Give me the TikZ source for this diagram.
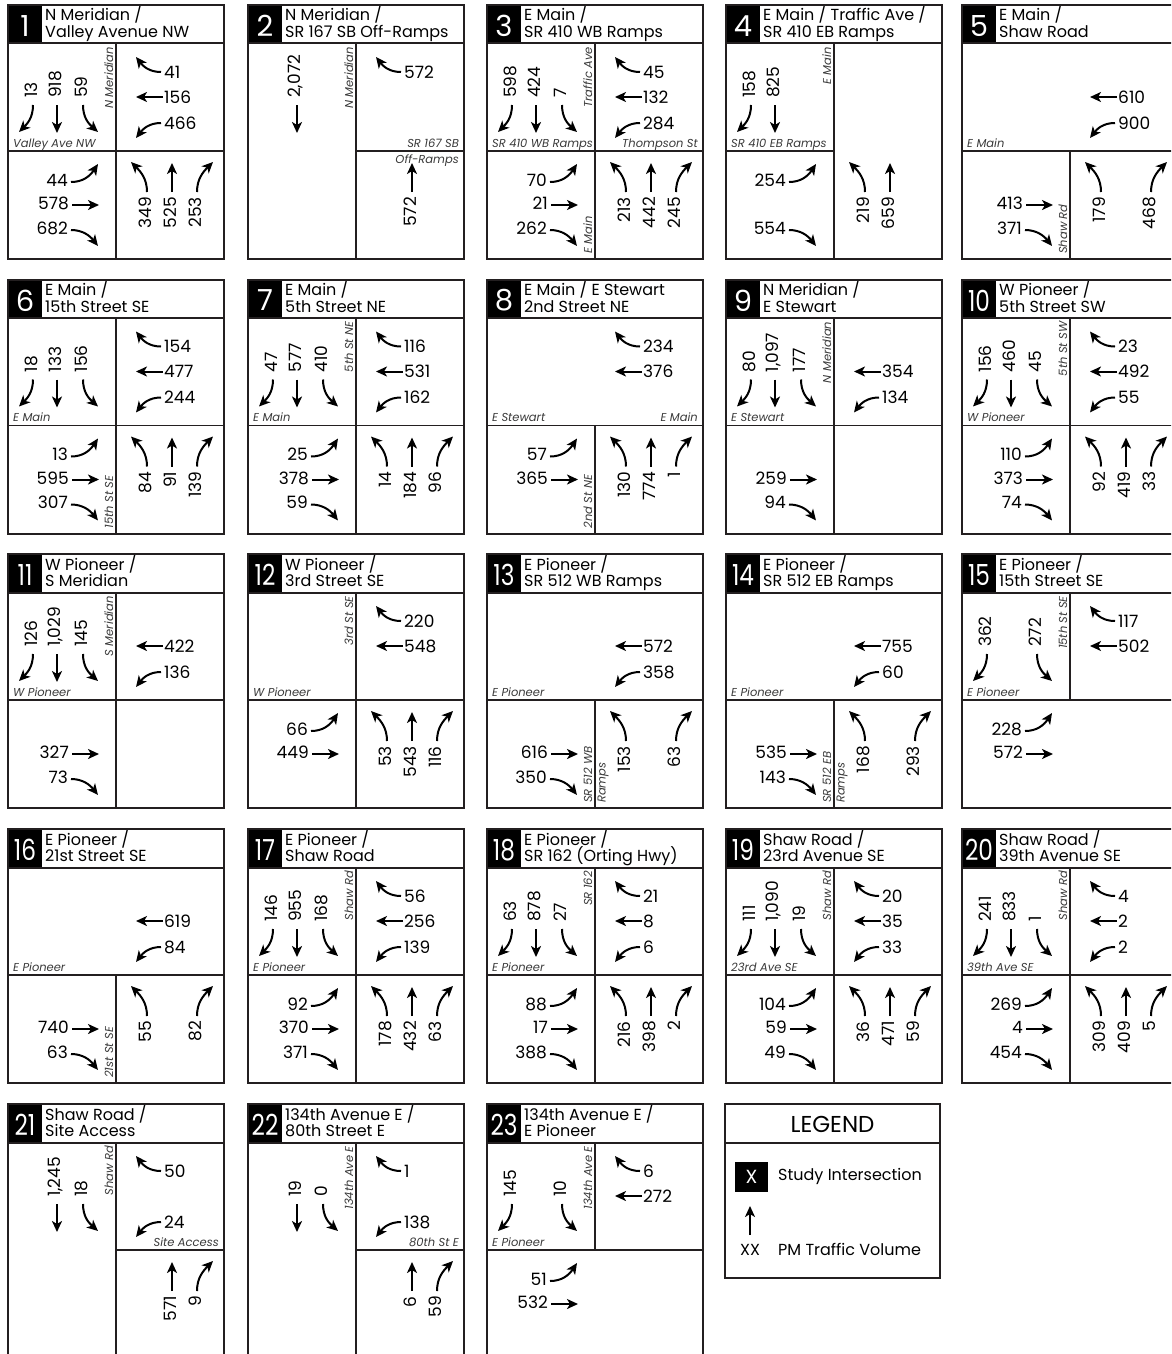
\documentclass[tikz,border=0pt]{standalone}
\usepackage{fontspec}
\setmainfont{Poppins}
\usepackage{graphicx}
\usetikzlibrary{arrows.meta}
\definecolor{ln}{HTML}{231F20}
\definecolor{rdc}{HTML}{3A3A3A}
\tikzset{
  outer/.style={line width=2pt, draw=ln},
  div/.style={line width=1.6pt, draw=ln},
  mv/.style={line width=2pt, draw=black, -{Stealth[length=11pt,width=10pt,inset=3pt]}},
  vol/.style={font=\fontsize{17}{17}\selectfont, inner sep=0pt},
  rd/.style={font=\fontsize{11.5}{11.5}\selectfont\itshape, inner sep=0pt, text=rdc},
  ttl/.style={font=\fontsize{16}{16}\selectfont, inner sep=0pt},
  idn/.style={font=\fontsize{29}{29}\selectfont, text=white, inner sep=0pt},
  lgt/.style={font=\fontsize{16}{16}\selectfont, inner sep=0pt},
}
\newcommand{\pnl}[3]{%
  \fill[black] (0,0) rectangle (34,38.5);
  \node[idn] (p\pid-id) at (17,21) {#1};
  \node[ttl,anchor=base west] (p\pid-t1) at (37,16) {#2};
  \node[ttl,anchor=base west] (p\pid-t2) at (37,32.5) {#3};
  \draw[outer] (0,0) rectangle (216,254);
  \draw[outer] (0,38.5) -- (216,38.5);
}
\newcommand{\dvF}{\draw[div] (108,38.5) -- (108,254);}
\newcommand{\dvT}{\draw[div] (108,38.5) -- (108,146);}
\newcommand{\dvB}{\draw[div] (108,146) -- (108,254);}
\newcommand{\dhF}{\draw[div] (0,146) -- (216,146);}
\newcommand{\dhL}{\draw[div] (0,146) -- (108,146);}
\newcommand{\dhR}{\draw[div] (108,146) -- (216,146);}
\newcommand{\rNW}[1]{\node[rd,anchor=base west] (p\pid-rnw) at (5,142) {#1};}
\newcommand{\rNE}[1]{\node[rd,anchor=base east] (p\pid-rne) at (211,142) {#1};}
\newcommand{\rSE}[1]{\node[rd,anchor=north east] (p\pid-rse) at (211,150) {#1};}
\newcommand{\rVT}[1]{\node[rd,rotate=90,anchor=south east] (p\pid-rvt) at (105.5,42) {#1};}
\newcommand{\rVB}[1]{\node[rd,rotate=90,anchor=south west] (p\pid-rvb) at (105.5,249) {#1};}
\newcommand{\rVR}[1]{\node[rd,rotate=90,anchor=north west] (p\pid-rvr) at (110.5,249) {#1};}
% southbound (NW quadrant)
\newcommand{\aSL}[1]{\draw[mv] (25,100) .. controls (25,113) and (19,119) .. (11,127);
  \node[vol,rotate=90,anchor=west] (p\pid-sl) at (23,93) {#1};}
\newcommand{\aST}[1]{\draw[mv] (49,100) -- (49,128);
  \node[vol,rotate=90,anchor=west] (p\pid-st) at (47,93) {#1};}
\newcommand{\aSR}[1]{\draw[mv] (75,100) .. controls (75,113) and (81,119) .. (90,127);
  \node[vol,rotate=90,anchor=west] (p\pid-sr) at (73,93) {#1};}
% westbound (NE quadrant)
\newcommand{\aWU}[1]{\draw[mv] (153,67) .. controls (141,67) and (135,61) .. (128,52);
  \node[vol,anchor=west] (p\pid-wu) at (156,67) {#1};}
\newcommand{\aWT}[1]{\draw[mv] (155,92) -- (128,92);
  \node[vol,anchor=west] (p\pid-wt) at (156,92) {#1};}
\newcommand{\aWD}[1]{\draw[mv] (153,118) .. controls (141,118) and (135,124) .. (128,133);
  \node[vol,anchor=west] (p\pid-wd) at (156,118) {#1};}
% eastbound (SW quadrant)
\newcommand{\aEU}[1]{\draw[mv] (63,177) .. controls (75,177) and (82,171) .. (90,159);
  \node[vol,anchor=east] (p\pid-eu) at (60,175) {#1};}
\newcommand{\aET}[1]{\draw[mv] (64,200) -- (91,200);
  \node[vol,anchor=east] (p\pid-et) at (61,198.5) {#1};}
\newcommand{\aED}[1]{\draw[mv] (63,225) .. controls (75,225) and (82,231) .. (90,241);
  \node[vol,anchor=east] (p\pid-ed) at (60,223) {#1};}
% northbound (SE quadrant)
\newcommand{\aNL}[1]{\draw[mv] (139,187) .. controls (139,174) and (133,167) .. (123,157);
  \node[vol,rotate=90,anchor=east] (p\pid-nl) at (137,192) {#1};}
\newcommand{\aNT}[1]{\draw[mv] (164,187) -- (164,158);
  \node[vol,rotate=90,anchor=east] (p\pid-nt) at (162,192) {#1};}
\newcommand{\aNR}[1]{\draw[mv] (189,187) .. controls (189,174) and (195,167) .. (205,157);
  \node[vol,rotate=90,anchor=east] (p\pid-nr) at (187,192) {#1};}
\newcommand{\tw}[1]{\scalebox{0.8}[1]{#1}}
\begin{document}
\begin{tikzpicture}[x=1pt,y=-1pt]
\useasboundingbox (0,0) rectangle (1171,1354);
\clip (0,0) rectangle (1171,1354);
\fill[white] (0,0) rectangle (1171,1354);
% ---------- row 1
\begin{scope}[shift={(8,5)}]\def\pid{1}
\pnl{1}{N Meridian /}{Valley Avenue NW}\dvF\dhF
\rVT{N Meridian}\rNW{Valley Ave NW}
\aSL{13}\aST{918}\aSR{59}\aWU{41}\aWT{156}\aWD{466}
\aEU{44}\aET{578}\aED{682}\aNL{349}\aNT{525}\aNR{253}
\end{scope}
\begin{scope}[shift={(248,5)}]\def\pid{2}
\pnl{2}{N Meridian /}{SR 167 SB Off-Ramps}\dvF\dhR
\rVT{N Meridian}\rNE{SR 167 SB}\rSE{Off-Ramps}
\aST{2,072}\aWU{572}\aNT{572}
\end{scope}
\begin{scope}[shift={(487,5)}]\def\pid{3}
\pnl{3}{E Main /}{SR 410 WB Ramps}\dvF\dhF
\rVT{Traffic Ave}\rNW{SR 410 WB Ramps}\rNE{Thompson St}\rVB{E Main}
\aSL{598}\aST{424}\aSR{7}\aWU{45}\aWT{132}\aWD{284}
\aEU{70}\aET{21}\aED{262}\aNL{213}\aNT{442}\aNR{245}
\end{scope}
\begin{scope}[shift={(726,5)}]\def\pid{4}
\pnl{4}{E Main / Traffic Ave /}{SR 410 EB Ramps}\dvF\dhL
\rVT{E Main}\rNW{SR 410 EB Ramps}
\aSL{158}\aST{825}\aEU{254}\aED{554}\aNL{219}\aNT{659}
\end{scope}
\begin{scope}[shift={(962,5)}]\def\pid{5}
\pnl{5}{E Main /}{Shaw Road}\dhF\dvB
\rNW{E Main}\rVB{Shaw Rd}
\aWT{610}\aWD{900}\aET{413}\aED{371}\aNL{179}\aNR{468}
\end{scope}
% ---------- row 2
\begin{scope}[shift={(8,279.5)}]\def\pid{6}
\pnl{6}{E Main /}{15th Street SE}\dvF\dhF
\rNW{E Main}\rVB{15th St SE}
\aSL{18}\aST{133}\aSR{156}\aWU{154}\aWT{477}\aWD{244}
\aEU{13}\aET{595}\aED{307}\aNL{84}\aNT{91}\aNR{139}
\end{scope}
\begin{scope}[shift={(248,279.5)}]\def\pid{7}
\pnl{7}{E Main /}{5th Street NE}\dvF\dhF
\rVT{5th St NE}\rNW{E Main}
\aSL{47}\aST{577}\aSR{410}\aWU{116}\aWT{531}\aWD{162}
\aEU{25}\aET{378}\aED{59}\aNL{14}\aNT{184}\aNR{96}
\end{scope}
\begin{scope}[shift={(487,279.5)}]\def\pid{8}
\pnl{8}{E Main / E Stewart}{2nd Street NE}\dhF\dvB
\rNW{E Stewart}\rNE{E Main}\rVB{2nd St NE}
\aWU{234}\aWT{376}\aEU{57}\aET{365}\aNL{130}\aNT{774}\aNR{1}
\end{scope}
\begin{scope}[shift={(726,279.5)}]\def\pid{9}
\pnl{9}{N Meridian /}{E Stewart}\dvF\dhF
\rVT{N Meridian}\rNW{E Stewart}
\aSL{80}\aST{1,097}\aSR{177}\aWT{354}\aWD{134}\aET{259}\aED{94}
\end{scope}
\begin{scope}[shift={(962,279.5)}]\def\pid{10}
\pnl{\tw{10}}{W Pioneer /}{5th Street SW}\dvF\dhF
\rVT{5th St SW}\rNW{W Pioneer}
\aSL{156}\aST{460}\aSR{45}\aWU{23}\aWT{492}\aWD{55}
\aEU{110}\aET{373}\aED{74}\aNL{92}\aNT{419}\aNR{33}
\end{scope}
% ---------- row 3
\begin{scope}[shift={(8,554)}]\def\pid{11}
\pnl{\tw{11}}{W Pioneer /}{S Meridian}\dvF\dhF
\rVT{S Meridian}\rNW{W Pioneer}
\aSL{126}\aST{1,029}\aSR{145}\aWT{422}\aWD{136}\aET{327}\aED{73}
\end{scope}
\begin{scope}[shift={(248,554)}]\def\pid{12}
\pnl{\tw{12}}{W Pioneer /}{3rd Street SE}\dvF\dhF
\rVT{3rd St SE}\rNW{W Pioneer}
\aWU{220}\aWT{548}\aEU{66}\aET{449}\aNL{53}\aNT{543}\aNR{116}
\end{scope}
\begin{scope}[shift={(487,554)}]\def\pid{13}
\pnl{\tw{13}}{E Pioneer /}{SR 512 WB Ramps}\dhF\dvB
\rNW{E Pioneer}\rVB{SR 512 WB}\rVR{Ramps}
\aWT{572}\aWD{358}\aET{616}\aED{350}\aNL{153}\aNR{63}
\end{scope}
\begin{scope}[shift={(726,554)}]\def\pid{14}
\pnl{\tw{14}}{E Pioneer /}{SR 512 EB Ramps}\dhF\dvB
\rNW{E Pioneer}\rVB{SR 512 EB}\rVR{Ramps}
\aWT{755}\aWD{60}\aET{535}\aED{143}\aNL{168}\aNR{293}
\end{scope}
\begin{scope}[shift={(962,554)}]\def\pid{15}
\pnl{\tw{15}}{E Pioneer /}{15th Street SE}\dhF\dvT
\rVT{15th St SE}\rNW{E Pioneer}
\aSL{362}\aSR{272}\aWU{117}\aWT{502}\aEU{228}\aET{572}
\end{scope}
% ---------- row 4
\begin{scope}[shift={(8,829)}]\def\pid{16}
\pnl{\tw{16}}{E Pioneer /}{21st Street SE}\dhF\dvB
\rNW{E Pioneer}\rVB{21st St SE}
\aWT{619}\aWD{84}\aET{740}\aED{63}\aNL{55}\aNR{82}
\end{scope}
\begin{scope}[shift={(248,829)}]\def\pid{17}
\pnl{\tw{17}}{E Pioneer /}{Shaw Road}\dvF\dhF
\rVT{Shaw Rd}\rNW{E Pioneer}
\aSL{146}\aST{955}\aSR{168}\aWU{56}\aWT{256}\aWD{139}
\aEU{92}\aET{370}\aED{371}\aNL{178}\aNT{432}\aNR{63}
\end{scope}
\begin{scope}[shift={(487,829)}]\def\pid{18}
\pnl{\tw{18}}{E Pioneer /}{SR 162 (Orting Hwy)}\dvF\dhF
\rVT{SR 162}\rNW{E Pioneer}
\aSL{63}\aST{878}\aSR{27}\aWU{21}\aWT{8}\aWD{6}
\aEU{88}\aET{17}\aED{388}\aNL{216}\aNT{398}\aNR{2}
\end{scope}
\begin{scope}[shift={(726,829)}]\def\pid{19}
\pnl{\tw{19}}{Shaw Road /}{23rd Avenue SE}\dvF\dhF
\rVT{Shaw Rd}\rNW{23rd Ave SE}
\aSL{111}\aST{1,090}\aSR{19}\aWU{20}\aWT{35}\aWD{33}
\aEU{104}\aET{59}\aED{49}\aNL{36}\aNT{471}\aNR{59}
\end{scope}
\begin{scope}[shift={(962,829)}]\def\pid{20}
\pnl{\tw{20}}{Shaw Road /}{39th Avenue SE}\dvF\dhF
\rVT{Shaw Rd}\rNW{39th Ave SE}
\aSL{241}\aST{833}\aSR{1}\aWU{4}\aWT{2}\aWD{2}
\aEU{269}\aET{4}\aED{454}\aNL{309}\aNT{409}\aNR{5}
\end{scope}
% ---------- row 5
\begin{scope}[shift={(8,1104)}]\def\pid{21}
\pnl{\tw{21}}{Shaw Road /}{Site Access}\dvF\dhR
\rVT{Shaw Rd}\rNE{Site Access}
\aST{1,245}\aSR{18}\aWU{50}\aWD{24}\aNT{571}\aNR{9}
\end{scope}
\begin{scope}[shift={(248,1104)}]\def\pid{22}
\pnl{\tw{22}}{134th Avenue E /}{80th Street E}\dvF\dhR
\rVT{134th Ave E}\rNE{80th St E}
\aST{19}\aSR{0}\aWU{1}\aWD{138}\aNT{6}\aNR{59}
\end{scope}
\begin{scope}[shift={(487,1104)}]\def\pid{23}
\pnl{\tw{23}}{134th Avenue E /}{E Pioneer}\dhF\dvT
\rVT{134th Ave E}\rNW{E Pioneer}
\aSL{145}\aSR{10}\aWU{6}\aWT{272}\aEU{51}\aET{532}
\end{scope}
% ---------- legend
\draw[outer] (725,1104) rectangle (940,1278);
\draw[outer] (725,1143) -- (940,1143);
\node[font=\fontsize{23}{23}\selectfont, inner sep=0pt] (lg-t) at (832.5,1124) {LEGEND};
\fill[black] (735,1162) rectangle (768,1192);
\node[font=\fontsize{19}{19}\selectfont, text=white, inner sep=0pt] (lg-x) at (751.5,1177) {X};
\node[lgt,anchor=base west] (lg-s) at (778,1180) {Study Intersection};
\coordinate (lg-a0) at (750,1235);
\coordinate (lg-a1) at (750,1206);
\draw[mv] (lg-a0) -- (lg-a1);
\node[lgt,anchor=base] (lg-xx) at (750,1255) {XX};
\node[lgt,anchor=base west] (lg-p) at (778,1255) {PM Traffic Volume};
\end{tikzpicture}
\end{document}
